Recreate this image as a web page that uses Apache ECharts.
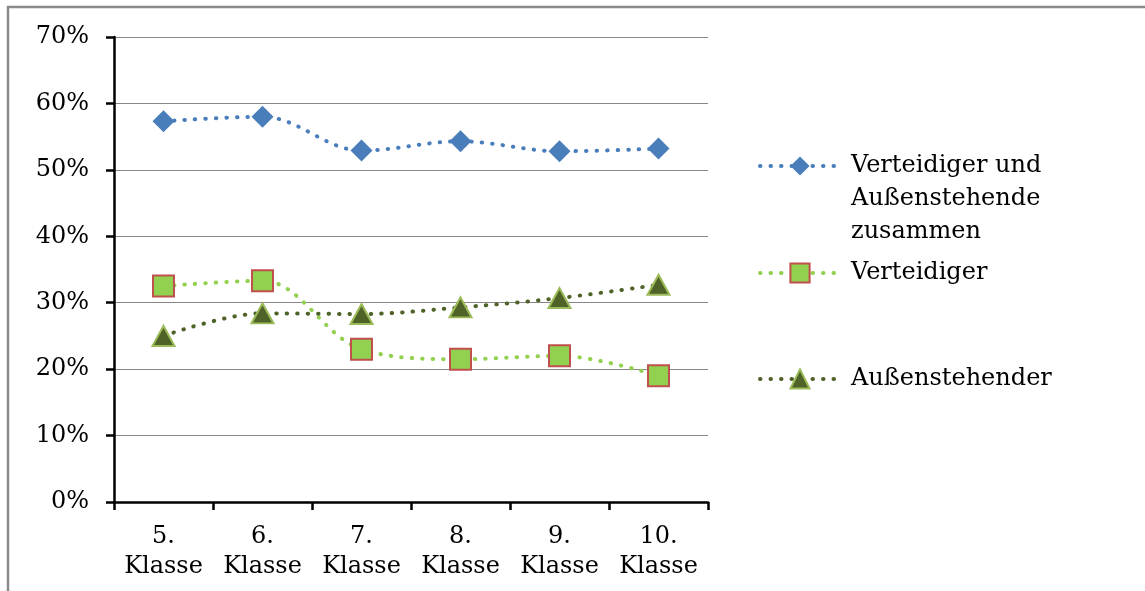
<!DOCTYPE html>
<html>
<head>
<meta charset="utf-8">
<script src="https://cdn.jsdelivr.net/npm/echarts@6/dist/echarts.min.js"></script>
<style>
html,body{margin:0;padding:0;background:#fff;}
#chart{width:1145px;height:591px;}
</style>
</head>
<body>
<div id="chart"></div>
<script>
const categories = ['5.\nKlasse', '6.\nKlasse', '7.\nKlasse', '8.\nKlasse', '9.\nKlasse', '10.\nKlasse'];
const seriesNames = ['Verteidiger und Außenstehende zusammen', 'Verteidiger', 'Außenstehender'];
const zusammen = [57.3, 58.0, 52.9, 54.3, 52.8, 53.2];
const verteidiger = [32.5, 33.3, 23.0, 21.5, 22.0, 19.0];
const aussenstehender = [25.0, 28.4, 28.3, 29.3, 30.7, 32.7];
const yTicks = [0, 10, 20, 30, 40, 50, 60, 70];

const FONT = 'DejaVu Serif';
const FS = 24;
const dotted = [0.5, 10];

const chart = echarts.init(document.getElementById('chart'), null, {renderer: 'canvas'});

function legendBase(name, top) {
  return {
    data: [name],
    orient: 'vertical',
    left: 758,
    top: top,
    padding: 0,
    itemWidth: 80,
    itemHeight: 24,
    formatter: function (n) {
      return n === seriesNames[0] ? ' \n \nVerteidiger und\nAußenstehende\nzusammen' : n;
    },
    lineStyle: {width: 4},
    textStyle: {
      fontFamily: FONT,
      fontSize: FS,
      color: '#000',
      lineHeight: 33,
      padding: [0, 0, 0, 6]
    },
    selectedMode: false
  };
}

chart.setOption({
  animation: false,
  backgroundColor: '#fff',
  grid: {left: 114, right: 437, top: 37, bottom: 89, containLabel: false},
  graphic: [{
    type: 'rect',
    shape: {x: 8, y: 7, width: 1200, height: 700},
    style: {fill: 'none', stroke: '#8a8a8a', lineWidth: 2.5},
    silent: true,
    z: -10
  }],
  legend: [
    legendBase(seriesNames[0], 166 - 82.5),
    legendBase(seriesNames[1], 273 - 16.5),
    legendBase(seriesNames[2], 379 - 16.5)
  ],
  xAxis: {
    type: 'category',
    data: categories,
    boundaryGap: true,
    axisLine: {lineStyle: {color: '#000', width: 2.5}},
    axisTick: {show: true, length: 8, lineStyle: {color: '#000', width: 2.5}},
    axisLabel: {
      fontFamily: FONT, fontSize: FS, color: '#000', lineHeight: 30, margin: 20, interval: 0
    },
    splitLine: {show: false}
  },
  yAxis: {
    type: 'value',
    min: yTicks[0],
    max: yTicks[yTicks.length - 1],
    interval: 10,
    axisLine: {show: true, lineStyle: {color: '#000', width: 2.5}},
    axisTick: {show: true, length: 8, lineStyle: {color: '#000', width: 2.5}},
    axisLabel: {
      fontFamily: FONT, fontSize: FS, color: '#000', margin: 25,
      formatter: '{value}%'
    },
    splitLine: {show: true, lineStyle: {color: '#878787', width: 1.2}}
  },
  series: [
    {
      name: seriesNames[0],
      type: 'line',
      data: zusammen,
      smooth: 0.35,
      symbol: 'diamond',
      symbolSize: 22,
      lineStyle: {color: '#4a7ebb', width: 4, type: dotted, cap: 'round'},
      itemStyle: {color: '#4a7ebb', borderWidth: 0},
      z: 3
    },
    {
      name: seriesNames[1],
      type: 'line',
      data: verteidiger,
      smooth: 0.35,
      symbol: 'rect',
      symbolSize: 21,
      lineStyle: {color: '#92d050', width: 4, type: dotted, cap: 'round'},
      itemStyle: {color: '#92d050', borderColor: '#c0504d', borderWidth: 2},
      z: 4
    },
    {
      name: seriesNames[2],
      type: 'line',
      data: aussenstehender,
      smooth: 0.35,
      symbol: 'triangle',
      symbolSize: [22, 20],
      lineStyle: {color: '#4f6228', width: 4, type: dotted, cap: 'round'},
      itemStyle: {color: '#4f6228', borderColor: '#9bbb59', borderWidth: 2},
      z: 5
    }
  ]
});
</script>
</body>
</html>
